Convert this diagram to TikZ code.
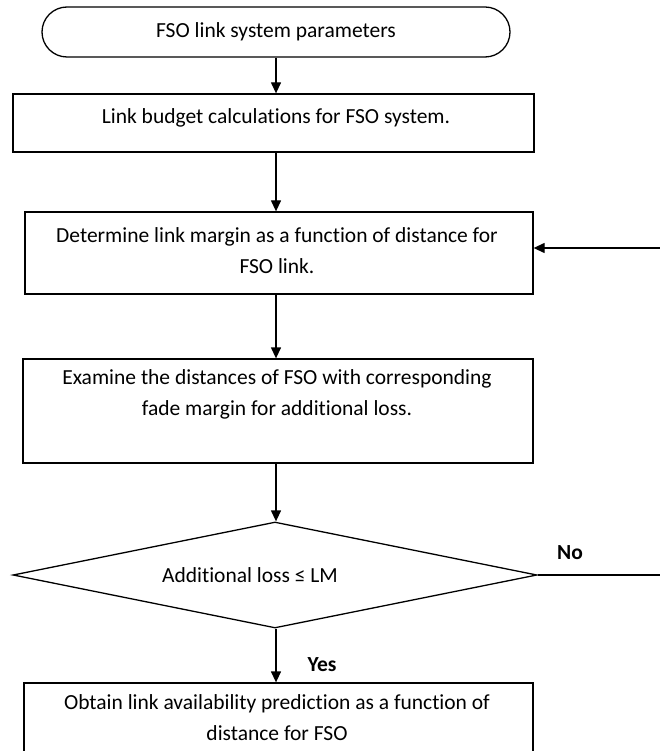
\documentclass[tikz,border=0pt]{standalone}
\usepackage{fontspec}
\setmainfont{Carlito}[RawFeature={-liga;-clig;-calt;-dlig}]
\usetikzlibrary{%
    arrows.meta,
    positioning,
    shapes.geometric,
    shapes.misc
}

\begin{document}
\begin{tikzpicture}[x=1pt, y=-1pt, line width=1.3pt,
    >={Triangle[length=11pt, width=10pt]},
    txt/.style={align=center, inner sep=0pt, font=\fontsize{21.5pt}{31pt}\selectfont},
    box/.style={draw, rectangle, inner sep=0pt},
    terminal/.style={draw, rounded rectangle, inner sep=0pt, txt},
    decision/.style={draw, diamond, inner sep=0pt}]
      \useasboundingbox (0,0) rectangle (660,751);
      \clip (0,0) rectangle (660,751);

      % start
      \node[terminal, minimum width=468pt, minimum height=50pt] (params) at (276,32) {FSO link system parameters};

      % steps
      \node[box, minimum width=521pt, minimum height=58pt] (budget) at (273.5,123) {};
      \node[txt] (budget_t) at (276,118) {Link budget calculations for FSO system.};

      \node[box, minimum width=508pt, minimum height=82pt] (margin) at (279,253) {};
      \node[txt] (margin_t) at (277,251) {Determine link margin as a function of distance for\\FSO link.};

      \node[box, minimum width=510pt, minimum height=104pt] (fade) at (278,411) {};
      \node[txt] (fade_t) at (277,394) {Examine the distances of FSO with corresponding\\fade margin for additional loss.};

      \node[decision, minimum width=524pt, minimum height=106pt] (check) at (275,575) {};
      \node[txt] (check_t) at (250,575) {Additional loss ≤ LM};

      \node[box, minimum width=509pt, minimum height=73pt] (avail) at (278.5,719.5) {};
      \node[txt] (avail_t) at (277,718) {Obtain link availability prediction as a function of\\distance for FSO};

      \node[txt] (no) at (570,553) {\textbf{No}};
      \node[txt] (yes) at (322,665) {\textbf{Yes}};

      % flow
      \draw[->] (params.south) -- (params.south |- budget.north);
      \draw[->] (params.south |- budget.south) -- (params.south |- margin.north);
      \draw[->] (params.south |- margin.south) -- (params.south |- fade.north);
      \draw[->] (params.south |- fade.south) -- (params.south |- check.north);
      \draw[->] (params.south |- check.south) -- (params.south |- avail.north);

      % loop back
      \draw[->] (check.east) -- ++(200,0) |- ([yshift=5pt]margin.east);
    \end{tikzpicture}
\end{document}
